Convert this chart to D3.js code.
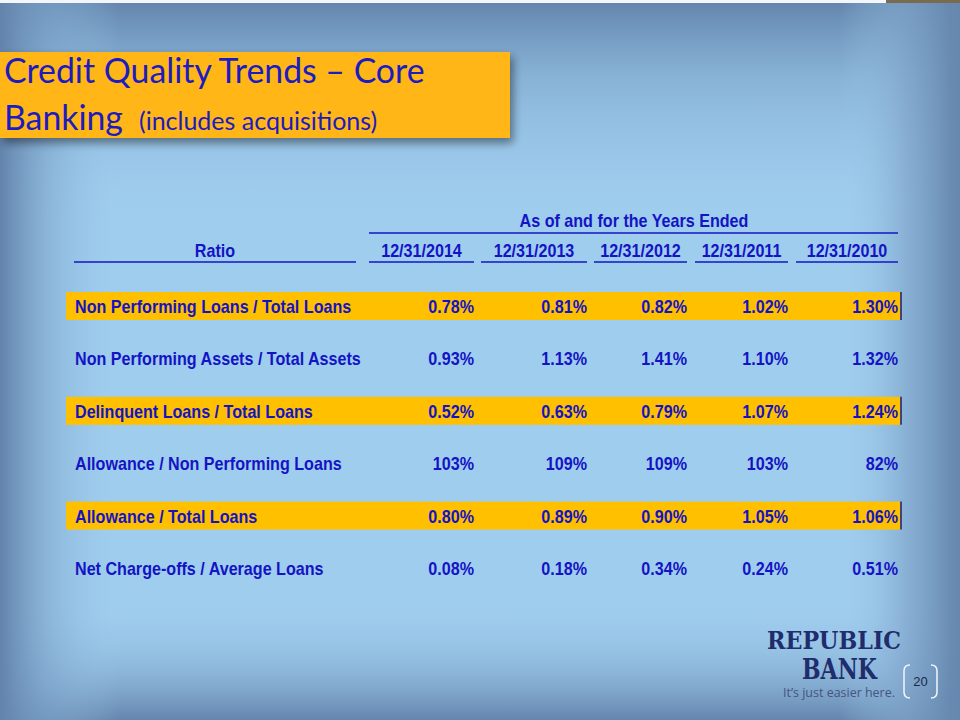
<!DOCTYPE html>
<html><head><meta charset="utf-8">
<script src="https://cdn.jsdelivr.net/npm/d3@7"></script>
<style>html,body{margin:0;padding:0;background:#fff;}svg{display:block;}</style>
</head><body>
<svg id="c" width="960" height="720"></svg>
<script>
const titleLine1 = "Credit Quality Trends – Core";
const titleLine2a = "Banking";
const titleLine2b = "(includes acquisitions)";
const groupHeader = "As of and for the Years Ended";
const ratioHeader = "Ratio";
const periods = ["12/31/2014","12/31/2013","12/31/2012","12/31/2011","12/31/2010"];
const ratios = [
  "Non Performing Loans / Total Loans",
  "Non Performing Assets / Total Assets",
  "Delinquent Loans / Total Loans",
  "Allowance / Non Performing Loans",
  "Allowance / Total Loans",
  "Net Charge-offs / Average Loans"
];
const values = [
  [0.78, 0.81, 0.82, 1.02, 1.30],
  [0.93, 1.13, 1.41, 1.10, 1.32],
  [0.52, 0.63, 0.79, 1.07, 1.24],
  [103, 109, 109, 103, 82],
  [0.80, 0.89, 0.90, 1.05, 1.06],
  [0.08, 0.18, 0.34, 0.24, 0.51]
];
const decimals = [2,2,2,0,2,2];
const highlighted = [true,false,true,false,true,false];
const pageNumber = "20";

const svg = d3.select("#c");
const W = 960, H = 720;
const defs = svg.append("defs");

// background
function lin(id, x1,y1,x2,y2, stops){
  const g = defs.append("linearGradient").attr("id",id)
    .attr("gradientUnits","userSpaceOnUse").attr("x1",x1).attr("y1",y1).attr("x2",x2).attr("y2",y2);
  stops.forEach(s=>g.append("stop").attr("offset",s[0]).attr("stop-color",s[1]).attr("stop-opacity",s[2]));
}
lin("gTop",0,0,0,230,[[0,"#6283ab",1],[0.35,"#7aa2c8",0.6],[1,"#9fcdee",0]]);
lin("gBot",0,600,0,720,[[0,"#9fcdee",0],[0.6,"#7fa5cb",0.6],[1,"#6585ad",1]]);
lin("gLeft",0,0,120,0,[[0,"#6283ab",1],[0.4,"#7ea5cb",0.6],[1,"#9fcdee",0]]);
lin("gRight",840,0,960,0,[[0,"#9fcdee",0],[0.55,"#7fa4c9",0.7],[1,"#6283ab",1]]);
svg.append("rect").attr("width",W).attr("height",H).attr("fill","#9fcdee");
svg.append("rect").attr("width",W).attr("height",230).attr("fill","url(#gTop)");
svg.append("rect").attr("y",600).attr("width",W).attr("height",120).attr("fill","url(#gBot)");
svg.append("rect").attr("width",120).attr("height",H).attr("fill","url(#gLeft)");
svg.append("rect").attr("x",840).attr("width",120).attr("height",H).attr("fill","url(#gRight)");
svg.append("rect").attr("x",952).attr("width",8).attr("height",H).attr("fill","#6a8cb2").attr("opacity",0.5);
// top strip
svg.append("rect").attr("width",886).attr("height",3).attr("fill","#f4f6f8");
svg.append("rect").attr("x",886).attr("width",74).attr("height",3).attr("fill","#7a6a50");

// title box with shadow
const f = defs.append("filter").attr("id","sh").attr("x","-10%").attr("y","-20%").attr("width","130%").attr("height","160%");
f.append("feGaussianBlur").attr("in","SourceAlpha").attr("stdDeviation",5);
f.append("feOffset").attr("dx",3).attr("dy",5).attr("result","b");
f.append("feComponentTransfer").append("feFuncA").attr("type","linear").attr("slope",0.45);
const fm = f.append("feMerge"); fm.append("feMergeNode"); fm.append("feMergeNode").attr("in","SourceGraphic");
svg.append("rect").attr("x",0).attr("y",52).attr("width",510).attr("height",86)
  .attr("fill","#ffb612").attr("filter","url(#sh)");
const titleFont = "Lato, 'Open Sans', sans-serif";
svg.append("text").attr("x",4).attr("y",83).attr("font-family",titleFont).attr("font-size",33.8)
  .attr("fill","#1c1cc0").text(titleLine1);
const t2 = svg.append("text").attr("x",4).attr("y",130).attr("font-family",titleFont).attr("fill","#1c1cc0");
t2.append("tspan").attr("font-size",33.8).text(titleLine2a);
t2.append("tspan").attr("font-size",25).attr("dx",16).text(titleLine2b);

// table
const tFont = "'Liberation Sans', Arial, sans-serif";
const blue = "#1414c4";
const SX = 0.895;
const rowY = d3.scalePoint().domain(ratios).range([306, 568]);
const ratioLeft = 74, ratioRight = 356;
const ul = [[369,474],[481,587],[594,687],[695,788],[796,898]];

const g = svg.append("g").attr("font-family",tFont).attr("font-weight","bold").attr("font-size",18).attr("fill",blue);
function txt(x,y,s,anchor){
  g.append("text").attr("transform",`translate(${x},${y}) scale(${SX},1)`)
    .attr("text-anchor",anchor||"start").text(s);
}
function hline(x1,x2,y){
  g.append("line").attr("x1",x1).attr("x2",x2).attr("y1",y).attr("y2",y).attr("stroke",blue).attr("stroke-width",1.5);
}

// group header
txt(634,227,groupHeader,"middle");
hline(369,898,233);
// ratio header
txt((ratioLeft+ratioRight)/2,257,ratioHeader,"middle");
hline(ratioLeft,ratioRight,262);
periods.forEach((p,i)=>{
  txt((ul[i][0]+ul[i][1])/2,257,p,"middle");
  hline(ul[i][0],ul[i][1],262);
});

// rows
ratios.forEach((r,ri)=>{
  const cy = rowY(r);
  if(highlighted[ri]){
    g.append("rect").attr("x",66).attr("y",cy-14).attr("width",835).attr("height",28).attr("fill","#ffc000");
    g.append("line").attr("x1",901).attr("x2",901).attr("y1",cy-14).attr("y2",cy+14).attr("stroke","#1a1a80").attr("stroke-width",1.5);
  }
  txt(75,cy+7,r);
  values[ri].forEach((v,ci)=>{
    txt(ul[ci][1],cy+7,d3.format("."+decimals[ri]+"f")(v)+"%","end");
  });
});

// logo
const serif = "'DejaVu Serif', 'Liberation Serif', serif";
svg.append("text").attr("x",767).attr("y",649).attr("font-family",serif).attr("font-weight","bold").attr("fill","#1f2d6c")
  .attr("font-size",23.5).attr("textLength",134).attr("lengthAdjust","spacingAndGlyphs").text("REPUBLIC");
svg.append("text").attr("x",802).attr("y",679).attr("font-family",serif).attr("font-weight","bold").attr("fill","#1f2d6c")
  .attr("font-size",27).attr("textLength",75).attr("lengthAdjust","spacingAndGlyphs").text("BANK");
svg.append("text").attr("x",783).attr("y",697).attr("font-family","'Open Sans', sans-serif")
  .attr("font-size",13.5).attr("fill","#44557f").attr("textLength",112).attr("lengthAdjust","spacingAndGlyphs").text("It’s just easier here.");
// page number with brackets
const pb = svg.append("g").attr("fill","none").attr("stroke","#f2f6fa").attr("stroke-width",1.5);
pb.append("path").attr("d","M910,665 Q904,665 904,671 L904,692 Q904,698 910,698");
pb.append("path").attr("d","M931,665 Q937,665 937,671 L937,692 Q937,698 931,698");
svg.append("text").attr("x",920.5).attr("y",686).attr("text-anchor","middle").attr("font-family","'Liberation Sans', Arial, sans-serif")
  .attr("font-size",13).attr("fill","#1a2a4a").text(pageNumber);
</script>
</body></html>
